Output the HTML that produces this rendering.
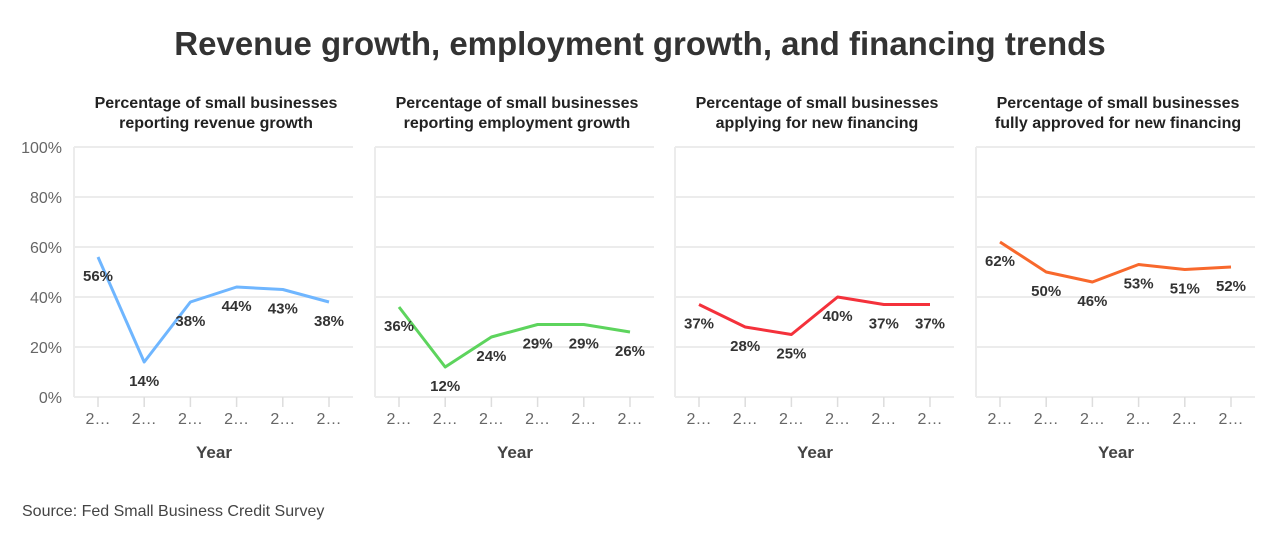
<!DOCTYPE html>
<html><head><meta charset="utf-8"><style>
body{margin:0;background:#fff;font-family:"Liberation Sans",sans-serif}
svg text{font-family:"Liberation Sans",sans-serif}
</style></head><body>
<svg id="c" width="1280" height="541" xmlns="http://www.w3.org/2000/svg">
<text x="640" y="55" text-anchor="middle" font-size="33" font-weight="bold" fill="#333">Revenue growth, employment growth, and financing trends</text>
<text x="22" y="516" font-size="16" fill="#444">Source: Fed Small Business Credit Survey</text>
</svg>
<script>
const titles1=["Percentage of small businesses","Percentage of small businesses","Percentage of small businesses","Percentage of small businesses"];
const titles2=["reporting revenue growth","reporting employment growth","applying for new financing","fully approved for new financing"];
const revenue=[56,14,38,44,43,38];
const employment=[36,12,24,29,29,26];
const applying=[37,28,25,40,37,37];
const approved=[62,50,46,53,51,52];
const yTicks=[0,20,40,60,80,100];
const xLabels=["2…","2…","2…","2…","2…","2…"];
const series=[revenue,employment,applying,approved];
const colors=["#6fb6ff","#5dd45d","#f4313b","#f8682c"];
const svg=document.getElementById('c');
const NS="http://www.w3.org/2000/svg";
function mk(t,a,txt){const e=document.createElementNS(NS,t);for(const k in a)e.setAttribute(k,a[k]);if(txt!==undefined)e.textContent=txt;svg.appendChild(e);return e;}
const top0=147,bot=397,pw=279,px0=[74,375,675,976];
const y=v=>bot-(v/100)*(bot-top0);
const x=(p,i)=>px0[p]+24+i*(pw-48)/(xLabels.length-1);
series.forEach((d,p)=>{
  const l=px0[p];
  let t=mk('text',{x:l+142,y:108,'text-anchor':'middle','font-size':16,'font-weight':'bold',fill:'#222'},titles1[p]);
  
  t=mk('text',{x:l+142,y:128,'text-anchor':'middle','font-size':16,'font-weight':'bold',fill:'#222'},titles2[p]);
  
  yTicks.forEach(v=>{
    const g=mk('line',{x1:l,x2:l+pw,y1:y(v),y2:y(v),stroke:'#ececec','stroke-width':2});
    
    if(p===0){const tl=mk('text',{x:l-12,y:y(v)+6,'text-anchor':'end','font-size':16,fill:'#666'},v+'%');
      }
  });
  const ax=mk('line',{x1:l,x2:l,y1:top0,y2:bot,stroke:'#ececec','stroke-width':2});
  
  xLabels.forEach((s,i)=>{
    const tk=mk('line',{x1:x(p,i),x2:x(p,i),y1:bot,y2:bot+10,stroke:'#ddd','stroke-width':1.5});
    
    const tl=mk('text',{x:x(p,i),y:424,'text-anchor':'middle','font-size':16,fill:'#666'},s);
    
  });
  const xt=mk('text',{x:l+140,y:458,'text-anchor':'middle','font-size':17,'font-weight':'bold',fill:'#444'},'Year');
  
  const line=mk('polyline',{points:d.map((v,i)=>x(p,i)+','+y(v)).join(' '),fill:'none',stroke:colors[p],'stroke-width':3,'stroke-linejoin':'round'});
  
  d.forEach((v,i)=>{
    const lb=mk('text',{x:x(p,i),y:y(v)+24,'text-anchor':'middle','font-size':15,'font-weight':'bold',fill:'#333'},v+'%');
    
  });
});
</script>
</body></html>
